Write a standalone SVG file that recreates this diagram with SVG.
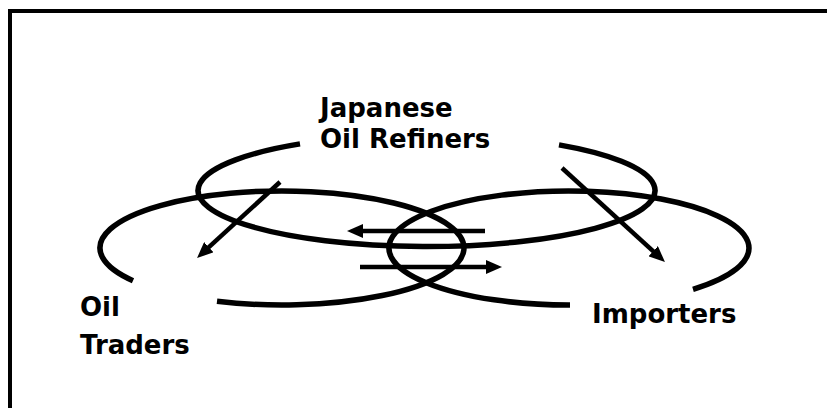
<svg xmlns="http://www.w3.org/2000/svg" width="827" height="408" viewBox="0 0 827 408">
  <style>
    .ring { fill: none; stroke: #000; stroke-width: 5.5; }
    .arrow { fill: none; stroke: #000; stroke-width: 4.5; marker-end: url(#head); }
    .label { font-family: "DejaVu Sans", Verdana, sans-serif; font-weight: bold; font-size: 26px; fill: #000; }
  </style>
  <defs>
    <marker id="head" markerUnits="userSpaceOnUse" markerWidth="16" markerHeight="14" refX="4" refY="7" orient="auto" viewBox="0 0 16 14">
      <path d="M0,0 L16,7 L0,14 z" fill="#000"/>
    </marker>
  </defs>
  <rect width="827" height="408" fill="#fff"/>
  <rect x="10" y="11" width="840" height="420" fill="none" stroke="#000" stroke-width="4"/>

  <g id="refiners">
    <path class="ring" d="M559,144.9 A228.5 56 0 1 1 300,143.9"/>
    <text class="label" x="320" y="117">Japanese</text>
    <text class="label" x="320" y="148">Oil Refiners</text>
  </g>
  <g id="traders">
    <path class="ring" d="M217,301.2 A182 57 0 1 0 133,280.7"/>
    <text class="label" x="80" y="316">Oil</text>
    <text class="label" x="80" y="354">Traders</text>
  </g>
  <g id="importers">
    <path class="ring" d="M693,289.3 A180 57 0 1 0 570,305"/>
    <text class="label" x="592" y="323">Importers</text>
  </g>

  <g id="connectors">
    <line class="arrow" x1="280" y1="182" x2="205.9" y2="249.9"/>
    <line class="arrow" x1="562" y1="168" x2="656.1" y2="253.9"/>
    <line class="arrow" x1="485" y1="231" x2="359" y2="231"/>
    <line class="arrow" x1="360" y1="267" x2="490" y2="267"/>
  </g>
</svg>
